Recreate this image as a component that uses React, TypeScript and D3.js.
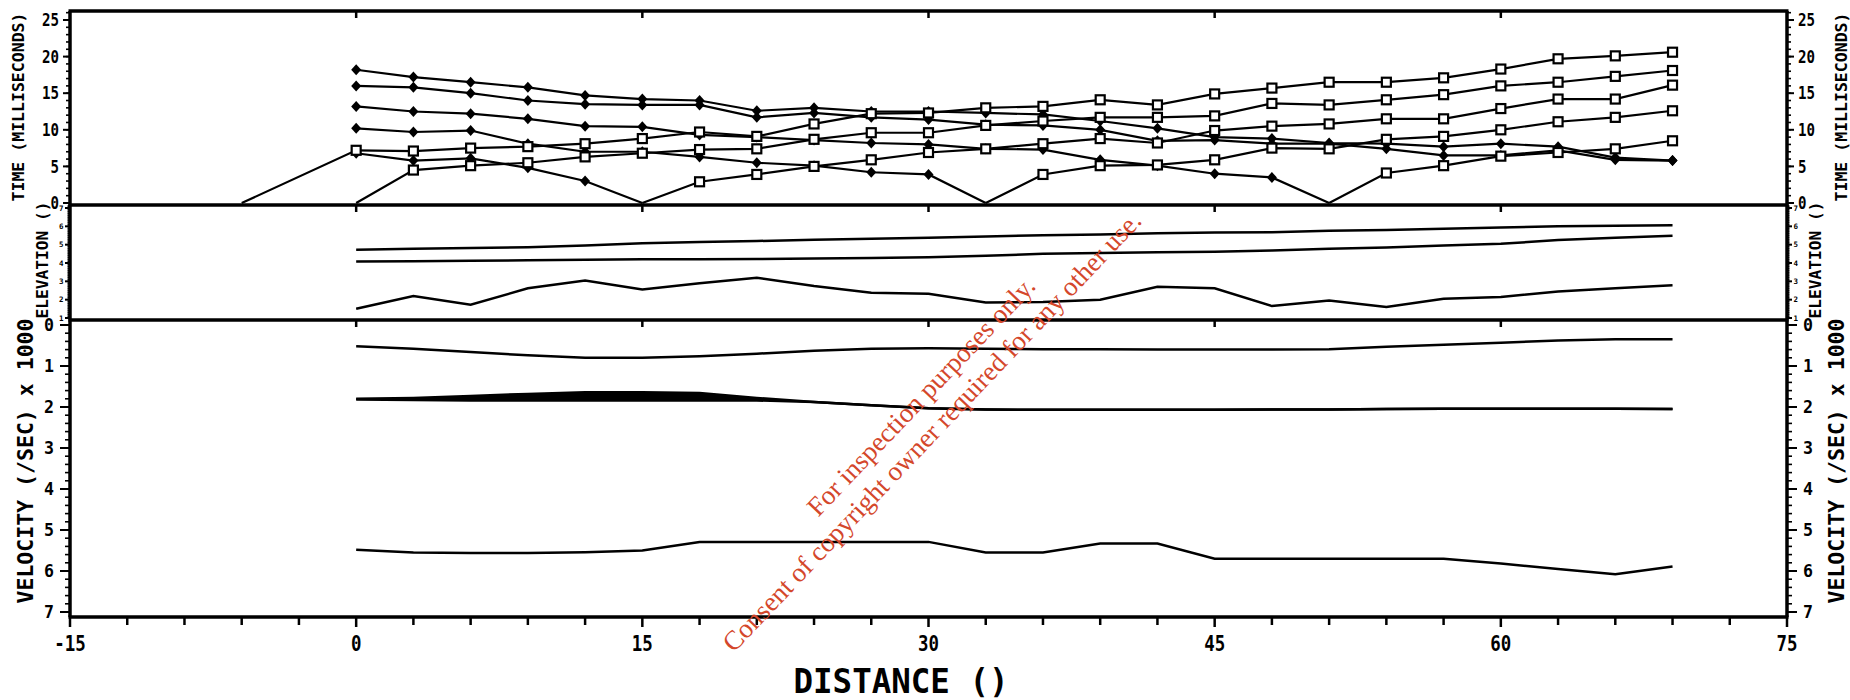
import React from "react";
import * as d3 from "d3";

// ---------- data ----------
const STATIONS = [0, 3, 6, 9, 12, 15, 18, 21, 24, 27, 30, 33, 36, 39, 42, 45, 48, 51, 54, 57, 60, 63, 66, 69];

// first-arrival times (ms) – diamonds: reverse shots
const timeD1 = [18.2, 17.2, 16.5, 15.8, 14.7, 14.2, 14.0, 12.6, 13.0, 12.5, 12.5, 12.3, 12.1, 11.2, 10.2, 9.0, 8.8, 8.2, 8.1, 7.7, 8.1, 7.7, 6.2, 5.8];
const timeD2 = [16.0, 15.8, 15.0, 14.0, 13.5, 13.4, 13.4, 11.7, 12.3, 11.7, 11.4, 10.7, 10.6, 10.0, 8.5, 8.6, 8.1, 8.1, 7.4, 6.5, 6.5, 7.2, 5.9, 5.8];
const timeD3 = [13.2, 12.5, 12.2, 11.5, 10.5, 10.4, 9.3, 9.0, 8.6, 8.2, 8.0, 7.4, 7.3, 5.9, 5.1, 4.0, 3.5, 0];
const timeD4 = [10.2, 9.7, 9.9, 8.1, 7.0, 7.0, 6.3, 5.5, 5.1, 4.2, 3.9, 0];
const timeD5 = [6.8, 5.8, 6.1, 4.8, 3.0, 0];
// squares: forward shots
const timeSm6 = [0, 7.2, 7.1, 7.5, 7.7, 8.1, 8.8, 9.7, 9.1, 10.8, 12.2, 12.3, 13.0, 13.2, 14.1, 13.4, 14.9, 15.7, 16.5, 16.5, 17.1, 18.3, 19.7, 20.1, 20.6];
const timeS0 = [0, 4.5, 5.1, 5.5, 6.3, 6.8, 7.3, 7.4, 8.7, 9.6, 9.6, 10.6, 11.2, 11.7, 11.7, 11.9, 13.6, 13.4, 14.1, 14.8, 16.0, 16.5, 17.3, 18.1];
const timeS15 = [0, 2.9, 3.9, 5.0, 5.9, 6.9, 7.4, 8.1, 8.8, 8.2, 9.9, 10.5, 10.8, 11.5, 11.5, 12.9, 14.2, 14.2, 16.1];
const timeS33 = [0, 3.9, 5.1, 5.2, 5.9, 7.5, 7.4, 8.7, 9.1, 10.0, 11.1, 11.7, 12.6];
const timeS51 = [0, 4.1, 5.1, 6.4, 6.9, 7.4, 8.5];

// elevation
const elevTop = [4.72, 4.78, 4.82, 4.86, 4.95, 5.08, 5.15, 5.2, 5.27, 5.32, 5.38, 5.45, 5.52, 5.56, 5.62, 5.66, 5.68, 5.76, 5.8, 5.87, 5.93, 6.0, 6.03, 6.06];
const elevMid = [4.08, 4.1, 4.12, 4.15, 4.18, 4.2, 4.2, 4.22, 4.24, 4.27, 4.32, 4.4, 4.5, 4.55, 4.58, 4.62, 4.68, 4.78, 4.85, 4.95, 5.05, 5.25, 5.38, 5.49];
const elevLow = [1.5, 2.2, 1.72, 2.62, 3.05, 2.55, 2.9, 3.2, 2.75, 2.38, 2.32, 1.85, 1.87, 2.0, 2.7, 2.62, 1.65, 1.95, 1.6, 2.05, 2.15, 2.45, 2.62, 2.78];

// velocity (/sec x 1000)
const velTop = [0.52, 0.58, 0.66, 0.74, 0.8, 0.8, 0.76, 0.7, 0.63, 0.58, 0.57, 0.58, 0.59, 0.59, 0.6, 0.6, 0.6, 0.59, 0.53, 0.48, 0.43, 0.38, 0.35, 0.35];
const velMidUpper = [1.8, 1.78, 1.73, 1.68, 1.64, 1.64, 1.66, 1.78, 1.88, 1.96, 2.03, 2.06, 2.07, 2.07, 2.07, 2.07, 2.06, 2.06, 2.05, 2.04, 2.04, 2.04, 2.04, 2.05];
const velMidLower = [1.82, 1.83, 1.84, 1.84, 1.84, 1.84, 1.84, 1.84, 1.88, 1.96, 2.03, 2.06, 2.07, 2.07, 2.07, 2.07, 2.06, 2.06, 2.05, 2.04, 2.04, 2.04, 2.04, 2.05];
const velLow = [5.48, 5.55, 5.56, 5.56, 5.54, 5.5, 5.29, 5.29, 5.29, 5.29, 5.29, 5.55, 5.55, 5.33, 5.33, 5.7, 5.7, 5.7, 5.7, 5.7, 5.82, 5.95, 6.08, 5.89];

// ticks / labels
const X_MAJOR = [-15, 0, 15, 30, 45, 60, 75];
const X_INNER = [0, 15, 30, 45, 60];
const TIME_MAJOR = [0, 5, 10, 15, 20, 25];
const ELEV_MAJOR = [1, 2, 3, 4, 5, 6, 7];
const VEL_MAJOR = [0, 1, 2, 3, 4, 5, 6, 7];

const TIME_TITLE = "TIME (MILLISECONDS)";
const ELEV_TITLE = "ELEVATION ()";
const VEL_TITLE = "VELOCITY (/SEC) x 1000";
const X_TITLE = "DISTANCE ()";
const WM1 = "For inspection purposes only.";
const WM2 = "Consent of copyright owner required for any other use.";

// ---------- layout ----------
const W = 1850, H = 700;
const L = 70, R = 1787;
const T_TOP = 11, T_BOT = 205, E_BOT = 320, V_BOT = 617;
const MONO = "'DejaVu Sans Mono', monospace";

const xS = d3.scaleLinear().domain([-15, 75]).range([L, R]);
const tS = d3.scaleLinear().domain([0, 25]).range([203, 20]);
const eS = d3.scaleLinear().domain([1, 7]).range([318, 208]);
const vS = d3.scaleLinear().domain([0, 7]).range([325, 612]);

type Series = { xs: number[]; ys: number[]; mark: "d" | "s" };
const timeSeries: Series[] = [
  { xs: STATIONS, ys: timeD1, mark: "d" },
  { xs: STATIONS, ys: timeD2, mark: "d" },
  { xs: STATIONS.slice(0, timeD3.length), ys: timeD3, mark: "d" },
  { xs: STATIONS.slice(0, timeD4.length), ys: timeD4, mark: "d" },
  { xs: STATIONS.slice(0, timeD5.length), ys: timeD5, mark: "d" },
  { xs: [-6, ...STATIONS], ys: timeSm6, mark: "s" },
  { xs: STATIONS, ys: timeS0, mark: "s" },
  { xs: STATIONS.slice(STATIONS.length - timeS15.length), ys: timeS15, mark: "s" },
  { xs: STATIONS.slice(STATIONS.length - timeS33.length), ys: timeS33, mark: "s" },
  { xs: STATIONS.slice(STATIONS.length - timeS51.length), ys: timeS51, mark: "s" },
];

function Txt(p: {
  x: number; y: number; text: string; size: number; anchor?: string; cw?: number;
  rot?: boolean; fill?: string; family?: string; weight?: string; len?: number; dy?: string;
}) {
  const len = p.len ?? (p.cw ? p.cw * p.text.length : undefined);
  return (
    <text
      transform={`translate(${p.x},${p.y})${p.rot ? " rotate(-90)" : ""}`}
      textAnchor={p.anchor ?? "middle"}
      fontFamily={p.family ?? MONO}
      fontWeight={p.weight ?? "bold"}
      fontSize={p.size}
      fill={p.fill ?? "#000"}
      dy={p.dy}
      textLength={len}
      lengthAdjust={len ? "spacingAndGlyphs" : undefined}
    >
      {p.text}
    </text>
  );
}

function YAxis(props: {
  scale: d3.ScaleLinear<number, number>; major: number[]; minorStep: number; lo: number; hi: number;
  top: number; bot: number; majLen: number; minLen: number; fs: number; cw: number; lblGap: number;
}) {
  const { scale, major, minorStep, lo, hi, top, bot, majLen, minLen, fs, cw, lblGap } = props;
  const minor = d3.range(lo, hi + 1e-9, minorStep).filter((v) => {
    const y = scale(v);
    return y >= top + 1 && y <= bot - 1;
  });
  const out: React.ReactNode[] = [];
  minor.forEach((v, i) => {
    const y = scale(v);
    out.push(<line key={"ml" + i} x1={L - minLen} x2={L} y1={y} y2={y} stroke="#000" strokeWidth={1.6} />);
    out.push(<line key={"mr" + i} x1={R} x2={R + minLen} y1={y} y2={y} stroke="#000" strokeWidth={1.6} />);
  });
  major.forEach((v, i) => {
    const y = scale(v);
    out.push(<line key={"Ml" + i} x1={L - majLen} x2={L} y1={y} y2={y} stroke="#000" strokeWidth={2} />);
    out.push(<line key={"Mr" + i} x1={R} x2={R + majLen} y1={y} y2={y} stroke="#000" strokeWidth={2} />);
    out.push(<Txt key={"tl" + i} x={L - majLen - lblGap} y={y} text={String(v)} size={fs} cw={cw} anchor="end" dy="0.36em" />);
    out.push(<Txt key={"tr" + i} x={R + majLen + lblGap} y={y} text={String(v)} size={fs} cw={cw} anchor="start" dy="0.36em" />);
  });
  return <g>{out}</g>;
}

export default function App() {
  const line = d3.line<[number, number]>().x((d) => d[0]).y((d) => d[1]);
  const stationXY = (vals: number[], sc: d3.ScaleLinear<number, number>) =>
    vals.map((v, i) => [xS(STATIONS[i]), sc(v)] as [number, number]);

  const bandArea = d3
    .area<number>()
    .x((_, i) => xS(STATIONS[i]))
    .y0((_, i) => vS(velMidUpper[i]))
    .y1((_, i) => vS(velMidLower[i]));

  const xMinor = d3.range(-15, 75.01, 3);

  return (
    <svg width={W} height={H} style={{ position: "absolute", left: 0, top: 0, background: "#fff" }}>
      <rect x={0} y={0} width={W} height={H} fill="#fff" />

      {/* time series */}
      {timeSeries.map((s, si) => (
        <path key={"tl" + si} d={line(s.xs.map((x, i) => [xS(x), tS(s.ys[i])] as [number, number])) ?? ""} fill="none" stroke="#000" strokeWidth={2.2} />
      ))}
      {timeSeries.map((s, si) =>
        s.xs.map((x, i) => {
          const v = s.ys[i];
          if (v <= 0) return null;
          const cx = xS(x), cy = tS(v);
          return s.mark === "d" ? (
            <path key={`m${si}-${i}`} d={`M${cx},${cy - 5.5}L${cx + 5},${cy}L${cx},${cy + 5.5}L${cx - 5},${cy}Z`} fill="#000" />
          ) : (
            <rect key={`m${si}-${i}`} x={cx - 4.5} y={cy - 4.5} width={9} height={9} fill="#fff" stroke="#000" strokeWidth={2.2} />
          );
        })
      )}

      {/* elevation */}
      {[elevTop, elevMid, elevLow].map((arr, i) => (
        <path key={"e" + i} d={line(stationXY(arr, eS)) ?? ""} fill="none" stroke="#000" strokeWidth={2.5} />
      ))}

      {/* velocity */}
      <path d={bandArea(velMidUpper) ?? ""} fill="#000" />
      {[velTop, velMidUpper, velMidLower, velLow].map((arr, i) => (
        <path key={"v" + i} d={line(stationXY(arr, vS)) ?? ""} fill="none" stroke="#000" strokeWidth={2.5} />
      ))}

      {/* frame */}
      {[T_TOP, T_BOT, E_BOT, V_BOT].map((y, i) => (
        <line key={"h" + i} x1={L - 1.5} x2={R + 1.5} y1={y} y2={y} stroke="#000" strokeWidth={3.5} />
      ))}
      <line x1={L} x2={L} y1={T_TOP} y2={V_BOT} stroke="#000" strokeWidth={3.5} />
      <line x1={R} x2={R} y1={T_TOP} y2={V_BOT} stroke="#000" strokeWidth={3.5} />

      {/* inner x ticks at the top of each panel */}
      {[T_TOP, T_BOT, E_BOT].map((y, pi) =>
        X_INNER.map((v, i) => (
          <line key={`in${pi}-${i}`} x1={xS(v)} x2={xS(v)} y1={y} y2={y + 7} stroke="#000" strokeWidth={2.5} />
        ))
      )}

      {/* bottom x ticks */}
      {xMinor.map((v, i) => (
        <line key={"xt" + i} x1={xS(v)} x2={xS(v)} y1={V_BOT} y2={V_BOT + (X_MAJOR.includes(v) ? 10 : 8)} stroke="#000" strokeWidth={2.5} />
      ))}
      {X_MAJOR.map((v, i) => (
        <Txt key={"xl" + i} x={xS(v)} y={651} text={String(v)} size={21} cw={10.5} />
      ))}

      {/* y axes */}
      <YAxis scale={tS} major={TIME_MAJOR} minorStep={1} lo={0} hi={27} top={T_TOP} bot={T_BOT} majLen={7} minLen={4} fs={17} cw={8.5} lblGap={4} />
      <YAxis scale={eS} major={ELEV_MAJOR} minorStep={0.1} lo={0.9} hi={7.2} top={T_BOT} bot={E_BOT} majLen={5} minLen={2.5} fs={7.5} cw={4.5} lblGap={1.5} />
      <YAxis scale={vS} major={VEL_MAJOR} minorStep={0.2} lo={0} hi={7.1} top={E_BOT} bot={V_BOT} majLen={10} minLen={5} fs={18} cw={10} lblGap={6} />

      {/* axis titles */}
      <Txt x={18} y={107} text={TIME_TITLE} size={16.5} len={189} rot dy="0.36em" />
      <Txt x={1841} y={107} text={TIME_TITLE} size={16.5} len={189} rot dy="0.36em" />
      <Txt x={43} y={260} text={ELEV_TITLE} size={15} len={117} rot dy="0.36em" />
      <Txt x={1816} y={260} text={ELEV_TITLE} size={15} len={117} rot dy="0.36em" />
      <Txt x={25} y={461} text={VEL_TITLE} size={21} len={285} rot dy="0.36em" />
      <Txt x={1836} y={461} text={VEL_TITLE} size={21} len={285} rot dy="0.36em" />
      <Txt x={901} y={693} text={X_TITLE} size={34} len={215} />

      {/* watermark */}
      <g transform="translate(926,426) rotate(-46.5)">
        <text x={18} y={-15} textAnchor="middle" fontFamily="'Liberation Serif', serif" fontSize={27} fill="#d4472b">{WM1}</text>
        <text x={0} y={17} textAnchor="middle" fontFamily="'Liberation Serif', serif" fontSize={27} fill="#d4472b">{WM2}</text>
      </g>
    </svg>
  );
}
